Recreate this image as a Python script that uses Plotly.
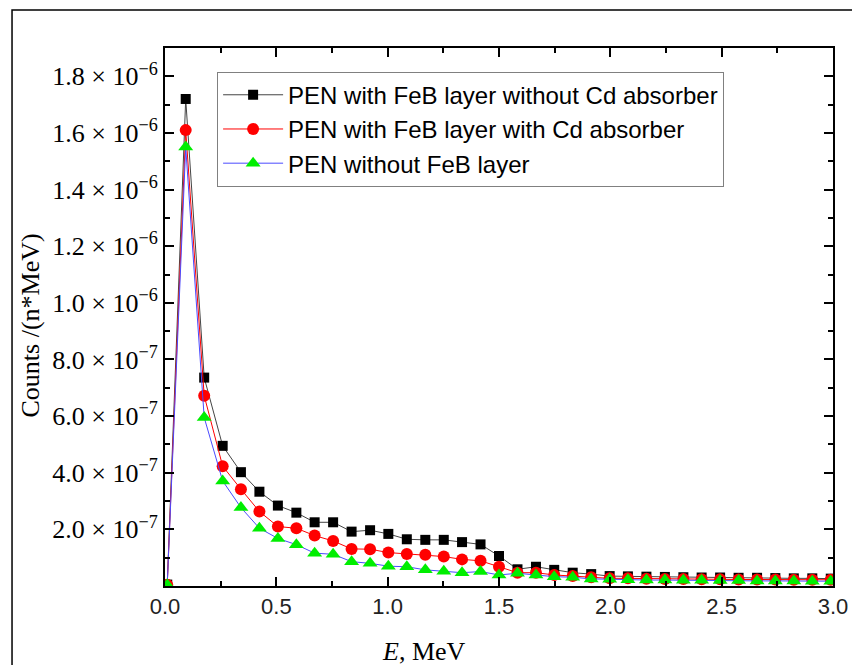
import plotly.graph_objects as go

# energy bins (MeV)
energy = [0.01, 0.093, 0.176, 0.259, 0.341, 0.424, 0.507, 0.590, 0.672, 0.755,
          0.838, 0.921, 1.003, 1.086, 1.169, 1.252, 1.334, 1.417, 1.500, 1.583,
          1.666, 1.748, 1.831, 1.914, 1.997, 2.079, 2.162, 2.245, 2.328, 2.410,
          2.493, 2.576, 2.659, 2.741, 2.824, 2.907, 2.990]

# counts in units of 1e-6 /(n*MeV)
feb_no_cd = [0.005, 1.72, 0.736, 0.495, 0.402, 0.333, 0.284, 0.259, 0.225, 0.225,
             0.192, 0.197, 0.184, 0.165, 0.163, 0.163, 0.155, 0.147, 0.106, 0.059,
             0.068, 0.057, 0.047, 0.042, 0.035, 0.034, 0.033, 0.032, 0.031, 0.030,
             0.030, 0.029, 0.029, 0.028, 0.027, 0.027, 0.026]
feb_cd = [0.004, 1.61, 0.672, 0.423, 0.342, 0.263, 0.210, 0.204, 0.178, 0.159,
          0.131, 0.130, 0.118, 0.113, 0.110, 0.104, 0.094, 0.089, 0.068, 0.047,
          0.047, 0.039, 0.035, 0.031, 0.027, 0.027, 0.026, 0.025, 0.025, 0.024,
          0.024, 0.023, 0.023, 0.023, 0.022, 0.022, 0.022]
no_feb = [0.004, 1.55, 0.595, 0.371, 0.277, 0.204, 0.168, 0.146, 0.116, 0.112,
          0.086, 0.080, 0.070, 0.068, 0.057, 0.052, 0.047, 0.051, 0.039, 0.045,
          0.039, 0.033, 0.031, 0.025, 0.024, 0.022, 0.021, 0.021, 0.020, 0.020,
          0.019, 0.019, 0.018, 0.018, 0.018, 0.017, 0.017]

y_tick_vals = [0.2e-6, 0.4e-6, 0.6e-6, 0.8e-6, 1.0e-6, 1.2e-6, 1.4e-6, 1.6e-6, 1.8e-6]
y_tick_text = ["2.0 × 10<sup>−7</sup>", "4.0 × 10<sup>−7</sup>", "6.0 × 10<sup>−7</sup>",
               "8.0 × 10<sup>−7</sup>", "1.0 × 10<sup>−6</sup>", "1.2 × 10<sup>−6</sup>",
               "1.4 × 10<sup>−6</sup>", "1.6 × 10<sup>−6</sup>", "1.8 × 10<sup>−6</sup>"]

series = [
    ("PEN with FeB layer without Cd absorber", feb_no_cd, "#444444", "black", "square", 10),
    ("PEN with FeB layer with Cd absorber", feb_cd, "red", "red", "circle", 12),
    ("PEN without FeB layer", no_feb, "#4a4aff", "#00ee00", "triangle-up", 13),
]

fig = go.Figure()
for name, vals, lc, mc, sym, sz in series:
    fig.add_trace(go.Scatter(
        x=energy, y=[v * 1e-6 for v in vals], name=name,
        mode="lines+markers",
        line=dict(color=lc, width=1),
        marker=dict(symbol=sym, size=sz, color=mc, line=dict(width=0)),
    ))

serif = "Liberation Serif, Times New Roman, serif"
sans = "Liberation Sans, Arial, sans-serif"

# the page body has an 8px margin, so the figure is a bit smaller than the window
fig.update_layout(
    width=852, height=657,
    margin=dict(l=157, r=25, t=40, b=79),
    paper_bgcolor="white", plot_bgcolor="white",
    showlegend=True,
    legend=dict(
        x=0.078, y=0.956, xanchor="left", yanchor="top",
        bordercolor="#808080", borderwidth=1, bgcolor="white",
        font=dict(family=sans, size=24, color="black"),
        tracegroupgap=0, itemwidth=60,
    ),
    xaxis=dict(
        range=[0, 3.0], tick0=0, dtick=0.5, tickformat=".1f",
        showgrid=False, zeroline=False,
        showline=True, linecolor="black", linewidth=2, mirror="allticks",
        ticks="inside", ticklen=9, tickwidth=1.5, tickcolor="black",
        minor=dict(dtick=0.25, ticks="inside", ticklen=5, tickwidth=1.5, tickcolor="black"),
        tickfont=dict(family=sans, size=22, color="#222222"),
    ),
    yaxis=dict(
        range=[0, 1.9e-6], tickmode="array", tickvals=y_tick_vals, ticktext=y_tick_text,
        showgrid=False, zeroline=False,
        showline=True, linecolor="black", linewidth=2, mirror="allticks",
        ticks="inside", ticklen=9, tickwidth=1.5, tickcolor="black",
        minor=dict(tick0=0, dtick=1e-7, ticks="inside", ticklen=5, tickwidth=1.5, tickcolor="black"),
        tickfont=dict(family=serif, size=26, color="black"),
    ),
    annotations=[
        dict(text="Counts /(n*MeV)", xref="paper", yref="paper", x=-0.2015, y=0.485,
             textangle=-90, showarrow=False, xanchor="center", yanchor="middle",
             font=dict(family=serif, size=26, color="black")),
        dict(text="<i>E</i>, MeV", xref="paper", yref="paper", x=0.388, y=-0.121,
             showarrow=False, xanchor="center", yanchor="middle",
             font=dict(family=serif, size=26, color="black")),
    ],
    shapes=[
        dict(type="rect", xref="paper", yref="paper", x0=-0.229, y0=-0.5, x1=1.5, y1=1.0706,
             line=dict(color="black", width=1.5), fillcolor="rgba(0,0,0,0)", layer="below"),
    ],
)

fig.write_html("out.html")
